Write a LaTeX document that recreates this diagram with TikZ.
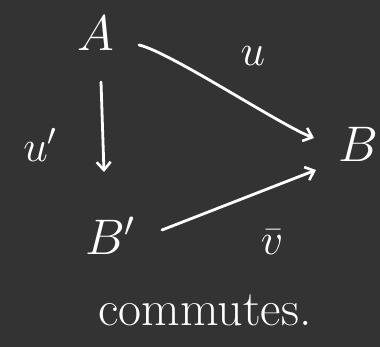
\RequirePackage{fix-cm}
\documentclass[tikz,border=0pt]{standalone}
\usetikzlibrary{arrows.meta}
\definecolor{bg}{HTML}{333333}
\begin{document}
\begin{tikzpicture}[x=1pt,y=-1pt,
  obj/.style={text=white,font=\fontsize{50}{56}\selectfont,inner sep=2pt},
  lab/.style={text=white,font=\fontsize{44}{50}\selectfont,inner sep=1pt},
  arr/.style={draw=white,line width=2.8pt,line cap=round,-{Straight Barb[length=8pt,width=14pt,line width=2.6pt]}}]
\fill[bg] (0,0) rectangle (380,347);
\useasboundingbox (0,0) rectangle (380,347);
\node[obj] (A) at (96,33) {$A$};
\node[obj] (B) at (358,144) {$B$};
\node[obj] (Bp) at (110,236) {$B'$};
\coordinate (a1) at (139,45);
\coordinate (b1) at (314,138);
\draw[arr] (a1) .. controls (170,52) and (280,125) .. (b1);
\draw[arr] (101,82) coordinate (a2) -- (104,172) coordinate (b2);
\draw[arr] (162,230) coordinate (a3) -- (316,170) coordinate (b3);
\node[lab] (u) at (253,56) {$u$};
\node[lab] (up) at (40,145) {$u'$};
\node[lab] (v) at (272,242) {$\bar v$};
\node[text=white,font=\fontsize{50}{56}\selectfont] (c) at (205,310) {commutes.};
\end{tikzpicture}
\end{document}
